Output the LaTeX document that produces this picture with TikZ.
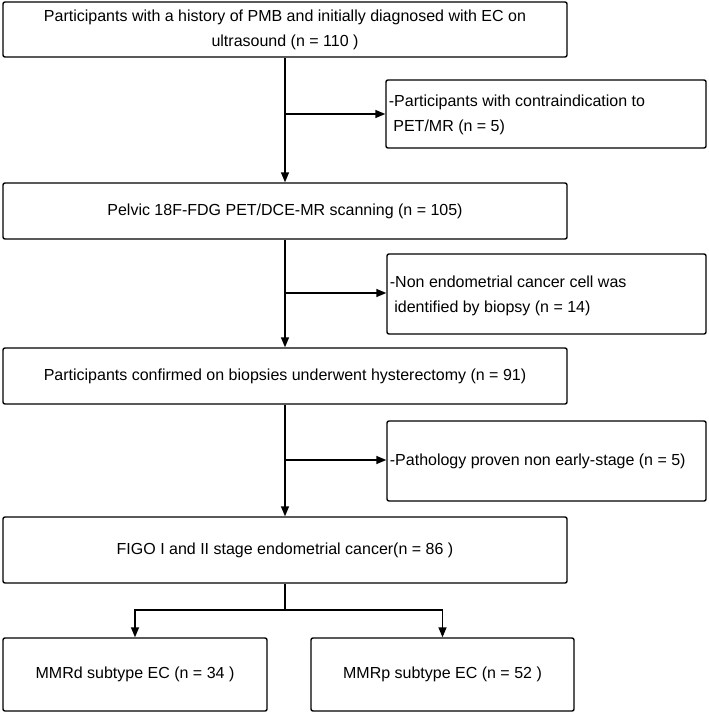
\documentclass[tikz,border=0pt]{standalone}
\usepackage{fontspec}
\setmainfont{Liberation Sans}
\usetikzlibrary{arrows.meta}
\begin{document}
\begin{tikzpicture}[x=0.75pt,y=-0.75pt,
  txt/.style={font=\fontsize{12}{18.75}\selectfont},
  box/.style={draw, line width=1.05pt, rounded corners=1.5pt, inner sep=0pt, align=center, txt},
  sidetxt/.style={anchor=west, inner sep=0pt, align=left, txt},
  ln/.style={line width=1.05pt},
  arr/.style={line width=1.05pt, -{Triangle[length=7.5pt,width=6pt]}}]
\useasboundingbox (0,0) rectangle (708,713);
% main boxes
\node[box, minimum width=423pt, minimum height=41.25pt] (b1) at (285,29.5)
  {Participants with a history of PMB and initially diagnosed with EC on\\ultrasound (n = 110 )};
\node[box, minimum width=423pt, minimum height=42pt] (b2) at (285,211)
  {Pelvic 18F-FDG PET/DCE-MR scanning (n = 105)};
\node[box, minimum width=423pt, minimum height=42pt] (b3) at (285,376)
  {Participants confirmed on biopsies underwent hysterectomy (n = 91)};
\node[box, minimum width=423pt, minimum height=49.5pt] (b4) at (285,550)
  {FIGO I and II stage endometrial cancer(n = 86 )};
\node[box, minimum width=198pt, minimum height=54.75pt] (b5) at (135,674.5)
  {MMRd subtype EC (n = 34 )};
\node[box, minimum width=197.25pt, minimum height=54.75pt] (b6) at (442.5,674.5)
  {MMRp subtype EC (n = 52 )};
% side boxes
\node[box, minimum width=240pt, minimum height=51pt] (sA) at (546,114) {};
\node[box, minimum width=239.25pt, minimum height=60pt] (sB) at (546.5,294) {};
\node[box, minimum width=239.25pt, minimum height=60pt] (sC) at (546.5,461) {};
\node[sidetxt] (tA) at ([xshift=2.5pt,yshift=-0.8pt]sA.west)
  {-Participants with contraindication to\\\hspace*{0.28em}PET/MR (n = 5)};
\node[sidetxt] (tB) at ([xshift=2.5pt,yshift=-1.5pt]sB.west)
  {-Non endometrial cancer cell was\\\hspace*{0.28em}identified by biopsy (n = 14)};
\node[sidetxt] (tC) at ([xshift=2.5pt]sC.west)
  {-Pathology proven non early-stage (n = 5)};
% junctions
\coordinate (jA) at (285,114);
\coordinate (jB) at (285,293);
\coordinate (jC) at (285,460);
\coordinate (br) at (285,610);
% connectors
\draw[arr] (b1.south) -- (b2.north);
\draw[arr] (b2.south) -- (b3.north);
\draw[arr] (b3.south) -- (b4.north);
\draw[arr] (jA) -- (sA.west |- jA);
\draw[arr] (jB) -- (sB.west |- jB);
\draw[arr] (jC) -- (sC.west |- jC);
\draw[ln] (b4.south) -- (br);
\draw[arr] (br) -| (b5.north);
\draw[arr] (br) -| (b6.north);
\end{tikzpicture}
\end{document}
